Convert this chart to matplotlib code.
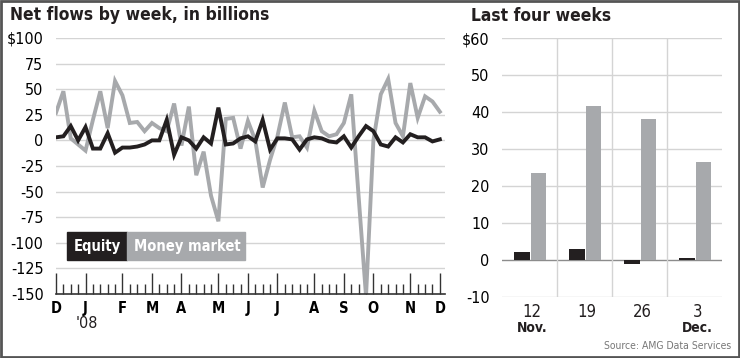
import numpy as np
import matplotlib
matplotlib.use("Agg")
import matplotlib.pyplot as plt
from matplotlib import font_manager
from matplotlib.patches import Rectangle
from matplotlib.ticker import FixedLocator, NullFormatter

# pick a condensed face if one is installed, otherwise Roboto
fonts = font_manager.fontManager.ttflist
cond = [f for f in fonts if f.stretch in ("condensed", "semi-condensed", "extra-condensed")
        or "Narrow" in f.name or "Condensed" in f.name]
if cond:
    plt.rcParams['font.family'] = [cond[0].name, 'DejaVu Sans']
    plt.rcParams['font.stretch'] = cond[0].stretch
    k = 1.0
else:
    plt.rcParams['font.family'] = ['Roboto', 'DejaVu Sans']
    k = 0.9

# weekly net flows, Dec 5 2007 .. Dec 3 2008 (billions)
equity = [3, 4, 14, 0, 13, -8, -8, 7, -12, -7, -7, -6, -4, 0, 0, 20, -14, 3, 0, -8,
          3, -3, 32, -4, -3, 2, 4, -1, 20, -9, 2, 2, 1, -9, 1, 3, 2, -1, -2, 4,
          -7, 4, 14, 9, -4, -6, 3, -2, 6, 3, 3, -1, 1]
money_market = [27, 48, 2, -4, -10, 20, 48, 12, 58, 44, 17, 18, 9, 17, 12, 9, 36, -5, 33, -34,
                -11, -54, -79, 21, 22, -8, 19, 0, -46, -19, 4, 37, 3, 4, -7, 29, 9, 4, 6, 17,
                45, -55, -152, 0, 45, 60, 17, 4, 56, 22, 43, 38, 28]
weeks = np.arange(len(equity))

# first week of each month
month_weeks = [0, 4, 9, 13, 17, 22, 26, 30, 35, 39, 43, 48, 52]
month_labels = ["D", "J", "F", "M", "A", "M", "J", "J", "A", "S", "O", "N", "D"]
y_ticks = [100, 75, 50, 25, 0, -25, -50, -75, -100, -125, -150]
y_labels = ["$100", "75", "50", "25", "0", "-25", "-50", "-75", "-100", "-125", "-150"]

# last four weeks
bar_cats = ["12", "19", "26", "3"]
bar_months = ["Nov.", "", "", "Dec."]
bar_equity = [2.2, 3.1, -1.1, 0.5]
bar_mm = [23.6, 41.6, 38.2, 26.6]

BLACK = "#231f20"
GREY = "#a7a9ac"
GRID = "#d4d4d4"

W, H = 740, 358
fig = plt.figure(figsize=(7.4, 3.58), dpi=100)
fig.patch.set_facecolor("white")

def fx(px):
    return px / W

def fy(py):
    return 1 - py / H

# ---- left panel ----
ax = fig.add_axes([fx(56), fy(294), fx(445 - 56), fy(38) - fy(294)])
ax.set_xlim(0, 52.7)
ax.set_ylim(-150, 100)
for v in y_ticks[:-1]:
    ax.axhline(v, color=GRID, lw=1, zorder=0)
ax.plot(weeks, money_market, color=GREY, lw=2.8, solid_joinstyle="miter", zorder=2)
ax.plot(weeks, equity, color=BLACK, lw=2.8, solid_joinstyle="miter", zorder=3)

for s in ["top", "right", "left"]:
    ax.spines[s].set_visible(False)
ax.spines["bottom"].set_color("#333333")
ax.spines["bottom"].set_linewidth(1.2)
ax.set_yticks(y_ticks)
ax.set_yticklabels(y_labels, fontsize=11.5 * k)
ax.tick_params(axis="y", length=0, pad=9)
ax.xaxis.set_major_locator(FixedLocator(month_weeks))
ax.xaxis.set_minor_locator(FixedLocator(weeks))
ax.xaxis.set_minor_formatter(NullFormatter())
ax.set_xticklabels(month_labels, fontsize=10.5 * k, fontweight="bold")
ax.tick_params(axis="x", which="major", direction="in", length=15, width=1, color="#333333", pad=5)
ax.tick_params(axis="x", which="minor", direction="in", length=7, width=1, color="#333333")
fig.text(fx(87), fy(324), "'08", ha="center", va="center", fontsize=11.5 * k, color=BLACK)

fig.text(fx(10), fy(15), "Net flows by week, in billions", fontsize=12.5 * k, fontweight="bold",
         ha="left", va="center", color=BLACK)

# legend boxes
fig.patches.append(Rectangle((fx(67), fy(260)), fx(60), fy(232) - fy(260),
                             transform=fig.transFigure, color=BLACK, zorder=5))
fig.patches.append(Rectangle((fx(127), fy(260)), fx(118), fy(232) - fy(260),
                             transform=fig.transFigure, color=GREY, zorder=5))
fig.text(fx(97), fy(246), "Equity", color="white", fontsize=10.5 * k, fontweight="bold",
         ha="center", va="center", zorder=6)
fig.text(fx(187), fy(246), "Money market", color="white", fontsize=10.5 * k, fontweight="bold",
         ha="center", va="center", zorder=6)

# ---- right panel ----
bx = fig.add_axes([fx(502), fy(297), fx(722 - 502), fy(38) - fy(297)])
x = np.arange(len(bar_cats))
bx.set_xlim(-0.5, 3.5)
bx.set_ylim(-10, 60)
for v in range(-10, 61, 10):
    bx.axhline(v, color="#8c8c8c" if v == 0 else GRID, lw=1, zorder=0)
for b in [0.5, 1.5, 2.5]:
    bx.axvline(b, color=GRID, lw=1, zorder=0)
bx.bar(x - 0.135, bar_equity, width=0.29, color=BLACK, zorder=2)
bx.bar(x + 0.165, bar_mm, width=0.28, color=GREY, zorder=2)
for s in bx.spines.values():
    s.set_visible(False)
bx.set_yticks(range(-10, 61, 10))
bx.set_yticklabels(["-10", "0", "10", "20", "30", "40", "50", "$60"], fontsize=11.5 * k)
bx.tick_params(axis="y", length=0, pad=9)
bx.set_xticks([])
tr = bx.get_xaxis_transform()
for i in range(len(bar_cats)):
    bx.text(x[i] + 0.05, -15 / 259, bar_cats[i], transform=tr, ha="center", va="center",
            fontsize=12 * k, color=BLACK)
    if bar_months[i]:
        bx.text(x[i] + 0.05, -31 / 259, bar_months[i], transform=tr, ha="center", va="center",
                fontsize=10 * k, fontweight="bold", color=BLACK)

fig.text(fx(471), fy(16), "Last four weeks", fontsize=12.5 * k, fontweight="bold",
         ha="left", va="center", color=BLACK)
fig.text(fx(731), fy(346), "Source: AMG Data Services", fontsize=7.5 * k, color="#777777",
         ha="right", va="center")

# outer frame
fig.patches.append(Rectangle((0.001, 0.002), 0.997, 0.995, transform=fig.transFigure,
                             fill=False, edgecolor="#555555", linewidth=2))

fig.savefig("out.png", dpi=100)
